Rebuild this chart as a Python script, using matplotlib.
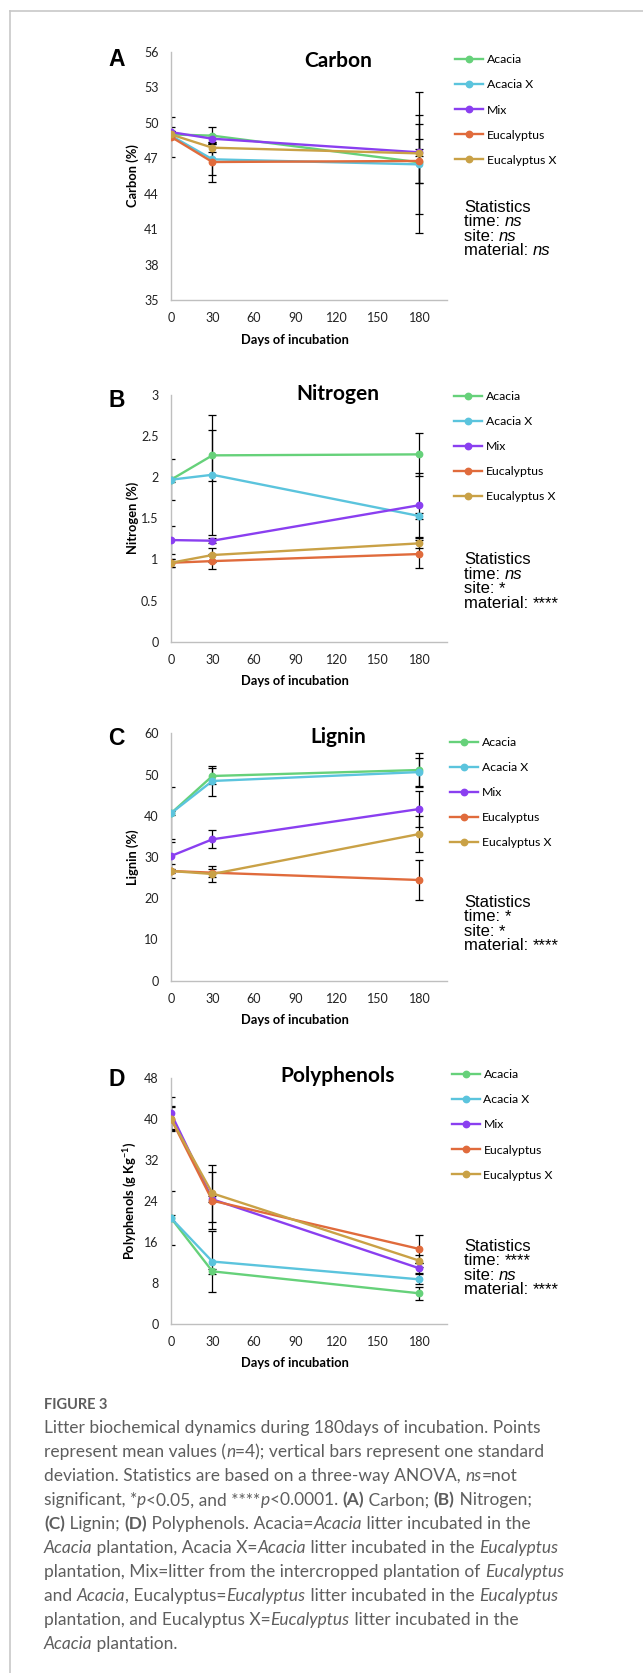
import matplotlib
matplotlib.use("Agg")
import matplotlib.pyplot as plt
from matplotlib.lines import Line2D
from matplotlib.ticker import FuncFormatter

# data
days = [0, 30, 180]
series = ["Acacia", "Acacia X", "Mix", "Eucalyptus", "Eucalyptus X"]
colors = ["#66d17a", "#5bc4dd", "#8a3ff0", "#e06b3c", "#c9a146"]

# rows follow the order of `series`
carbon_mean = [[49.0, 48.9, 46.64], [48.9, 46.9, 46.47], [49.2, 48.64, 47.49],
               [48.8, 46.67, 46.76], [49.0, 47.88, 47.4]]
carbon_sd = [[0.3, 0.7, 5.95], [0.3, 1.3, 4.2], [0.4, 0.3, 0.3],
             [1.7, 1.7, 1.85], [0.3, 0.4, 2.5]]

nitrogen_mean = [[1.97, 2.266, 2.278], [1.97, 2.03, 1.528], [1.236, 1.228, 1.66],
                 [0.96, 0.98, 1.066], [0.96, 1.054, 1.196]]
nitrogen_sd = [[0.25, 0.31, 0.265], [0.03, 0.73, 0.04], [0.17, 0.03, 0.39],
               [0.05, 0.09, 0.175], [0.05, 0.09, 0.06]]

lignin_mean = [[40.6, 49.65, 51.1], [40.6, 48.44, 50.6], [30.24, 34.29, 41.64],
               [26.6, 26.2, 24.42], [26.6, 25.88, 35.58]]
lignin_sd = [[6.3, 1.9, 4.2], [0.5, 3.6, 3.5], [3.4, 2.2, 4.3],
             [1.8, 1.0, 4.8], [0.6, 1.9, 4.3]]

poly_mean = [[20.65, 10.26, 5.98], [20.65, 12.17, 8.7], [41.05, 24.3, 10.85],
             [40.0, 24.03, 14.62], [40.0, 25.46, 12.34]]
poly_sd = [[0.5, 0.5, 1.3], [5.3, 5.9, 1.0], [3.1, 0.6, 1.0],
           [2.4, 5.5, 2.7], [2.2, 5.5, 1.2]]

stats_carbon = [("time: ", "ns"), ("site: ", "ns"), ("material: ", "ns")]
stats_nitrogen = [("time: ", "ns"), ("site: ", "*"), ("material: ", "****")]
stats_lignin = [("time: ", "*"), ("site: ", "*"), ("material: ", "****")]
stats_poly = [("time: ", "****"), ("site: ", "ns"), ("material: ", "****")]

W, H = 643, 1673
fig = plt.figure(figsize=(W / 100, H / 100), dpi=100)
renderer = fig.canvas.get_renderer()


def fx(px):
    return px / W


def fy(py):
    return 1 - py / H


def text_width(txt, kw):
    a = fig.text(0, 0, txt + "|", **kw)
    b = fig.text(0, 0, "|", **kw)
    w = a.get_window_extent(renderer).width - b.get_window_extent(renderer).width
    a.remove()
    b.remove()
    return w


def put_runs(x, y, runs, base):
    # draw a line of text made of normal / italic / bold pieces
    for txt, st in runs:
        kw = dict(base)
        if st == "i":
            kw["style"] = "italic"
        if st == "b":
            kw["weight"] = "bold"
        fig.text(fx(x), fy(y), txt, ha="left", va="baseline", **kw)
        x += text_width(txt, kw)


panels = [
    dict(letter="A", title="Carbon", ylabel="Carbon (%)", mean=carbon_mean, sd=carbon_sd,
         ylim=(35, 56), step=3, top=51.7, bot=300, title_y=66.7, letter_y=66,
         leg_y=110, leg_x=455, stats=stats_carbon, stats_y=206.7),
    dict(letter="B", title="Nitrogen", ylabel="Nitrogen (%)", mean=nitrogen_mean, sd=nitrogen_sd,
         ylim=(0, 3), step=0.5, top=395, bot=641.7, title_y=400, letter_y=407,
         leg_y=446.7, leg_x=454, stats=stats_nitrogen, stats_y=559.3),
    dict(letter="C", title="Lignin", ylabel="Lignin (%)", mean=lignin_mean, sd=lignin_sd,
         ylim=(0, 60), step=10, top=733.3, bot=980.7, title_y=743.3, letter_y=745,
         leg_y=792.8, leg_x=450, stats=stats_lignin, stats_y=901.7),
    dict(letter="D", title="Polyphenols", ylabel=r"Polyphenols (g Kg$^{\mathbf{-1}}$)",
         mean=poly_mean, sd=poly_sd, ylim=(0, 48), step=8, top=1077.7, bot=1324,
         title_y=1081.7, letter_y=1086, leg_y=1125, leg_x=451.7, stats=stats_poly,
         stats_y=1245.7),
]

plt.rcParams["mathtext.fontset"] = "custom"
plt.rcParams["mathtext.bf"] = "Lato:bold"
plt.rcParams["mathtext.rm"] = "Lato:bold"

axis_gray = "#bfbfbf"
for p in panels:
    ax = fig.add_axes([fx(171), fy(p["bot"]), fx(276), (p["bot"] - p["top"]) / H])
    for i, name in enumerate(series):
        ax.errorbar(days, p["mean"][i], yerr=p["sd"][i], fmt="none", ecolor="black",
                    elinewidth=0.9, capsize=3, capthick=0.9, zorder=2)
    for i, name in enumerate(series):
        ax.plot(days, p["mean"][i], "-o", color=colors[i], lw=1.7, ms=4.6,
                zorder=3, label=name)
    lo, hi = p["ylim"]
    ax.set_ylim(lo, hi)
    ax.set_xlim(0, 200)
    ax.set_xticks([0, 30, 60, 90, 120, 150, 180])
    n = int(round((hi - lo) / p["step"]))
    ax.set_yticks([lo + k * p["step"] for k in range(n + 1)])
    ax.yaxis.set_major_formatter(FuncFormatter(lambda v, _: "%g" % v))
    for s in ["top", "right"]:
        ax.spines[s].set_visible(False)
    for s in ["left", "bottom"]:
        ax.spines[s].set_color(axis_gray)
        ax.spines[s].set_linewidth(1.0)
    ax.tick_params(length=0, labelsize=9, pad=9, labelcolor="#222222")
    for lab in ax.get_xticklabels() + ax.get_yticklabels():
        lab.set_family("Lato")
    ax.set_xlabel("Days of incubation", family="Lato", weight="bold", fontsize=9.3)
    ax.xaxis.set_label_coords(0.448, -0.135)
    ax.set_ylabel(p["ylabel"], family="Lato", weight="bold", fontsize=9.3)
    ax.yaxis.set_label_coords(-0.115, 0.5)

    h = p["bot"] - p["top"]
    ax.text(0.605, (p["bot"] - p["title_y"]) / h, p["title"], transform=ax.transAxes,
            ha="center", va="baseline", family="Lato", weight="bold", fontsize=15)
    fig.text(fx(108), fy(p["letter_y"]), p["letter"], ha="left", va="baseline",
             family="Liberation Sans", weight="bold", fontsize=16.5)

    ax.legend(loc="center left", bbox_to_anchor=(fx(p["leg_x"]), fy(p["leg_y"])),
              bbox_transform=fig.transFigure, frameon=False, handlelength=2.3,
              handletextpad=0.3, labelspacing=1.15, borderpad=0, borderaxespad=0,
              prop={"family": "Lato", "size": 8.8})

    sbase = dict(family="Liberation Sans", fontsize=12, color="black")
    y = p["stats_y"] + 5
    put_runs(464, y, [("Statistics", "n")], sbase)
    for k, (lab, val) in enumerate(p["stats"]):
        st = "i" if val == "ns" else "n"
        put_runs(464, y + 14.5 * (k + 1), [(lab, "n"), (val, st)], sbase)

# frame
fig.add_artist(Line2D([fx(10), 1], [fy(11), fy(11)], color="#c8c8c8", lw=1.2))
fig.add_artist(Line2D([fx(10), fx(10)], [fy(11), 0], color="#c8c8c8", lw=1.2))

# caption
cap_gray = "#5e5e5e"
fig.text(fx(44), fy(1404 + 5), "FIGURE 3", ha="left", va="baseline", family="Lato",
         weight="bold", fontsize=10.5, color=cap_gray)

caption = [
    [("Litter biochemical dynamics during 180days of incubation. Points", "n")],
    [("represent mean values (", "n"), ("n", "i"), ("=4); vertical bars represent one standard", "n")],
    [("deviation. Statistics are based on a three-way ANOVA, ", "n"), ("ns", "i"), ("=not", "n")],
    [("significant, *", "n"), ("p", "i"), ("<0.05, and ****", "n"), ("p", "i"), ("<0.0001. ", "n"),
     ("(A)", "b"), (" Carbon; ", "n"), ("(B)", "b"), (" Nitrogen;", "n")],
    [("(C)", "b"), (" Lignin; ", "n"), ("(D)", "b"), (" Polyphenols. Acacia=", "n"), ("Acacia", "i"),
     (" litter incubated in the", "n")],
    [("Acacia", "i"), (" plantation, Acacia X=", "n"), ("Acacia", "i"), (" litter incubated in the ", "n"),
     ("Eucalyptus", "i")],
    [("plantation, Mix=litter from the intercropped plantation of ", "n"), ("Eucalyptus", "i")],
    [("and ", "n"), ("Acacia", "i"), (", Eucalyptus=", "n"), ("Eucalyptus", "i"),
     (" litter incubated in the ", "n"), ("Eucalyptus", "i")],
    [("plantation, and Eucalyptus X=", "n"), ("Eucalyptus", "i"), (" litter incubated in the", "n")],
    [("Acacia", "i"), (" plantation.", "n")],
]
cbase = dict(family="Lato", fontsize=12.5, color=cap_gray, weight="normal")
for k, runs in enumerate(caption):
    put_runs(44, 1427.3 + 6 + 24 * k, runs, cbase)

fig.savefig("out.png", dpi=100)
